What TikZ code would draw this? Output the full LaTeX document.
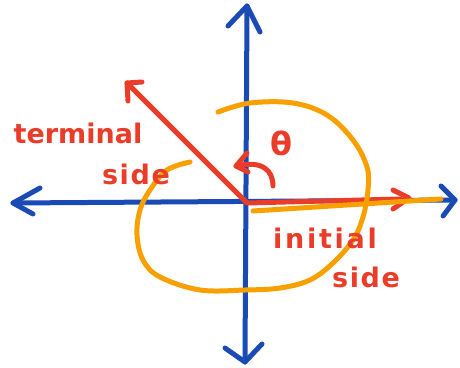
\documentclass[tikz,border=0pt]{standalone}
\usepackage{fontspec}
\setmainfont{DejaVu Sans}
\definecolor{axisblue}{RGB}{26,74,180}
\definecolor{penred}{RGB}{234,60,40}
\definecolor{penorange}{RGB}{248,160,0}
\begin{document}
\begin{tikzpicture}[x=1pt,y=-1pt,
  axisline/.style={draw=axisblue,line width=5pt,line cap=round,line join=round},
  redline/.style={draw=penred,line width=5pt,line cap=round,line join=round},
  orangeline/.style={draw=penorange,line width=5pt,line cap=round,line join=round},
  handtext/.style={text=penred,font=\bfseries\fontsize{27}{29}\selectfont,inner sep=0pt}]
\useasboundingbox (0,0) rectangle (460,367);
% axes
\coordinate (top) at (247,6);
\coordinate (bottom) at (245,362);
\coordinate (left) at (13,203);
\coordinate (right) at (455,200);
\coordinate (O) at (247,203);
\draw[axisline] (top) -- (bottom);
\draw[axisline] (left) -- (right);
\draw[axisline] (228,26) -- (top) -- (260,32);
\draw[axisline] (225,348) -- (bottom) -- (262,344);
\draw[axisline] (40,188) -- (left) -- (33,214);
\draw[axisline] (441,186) -- (right) -- (443,216);
% terminal side
\coordinate (termtip) at (127,83);
\draw[redline] (termtip) -- (O) -- (400,199);
\draw[redline] (142,82) -- (termtip) -- (128,101);
% initial side arrowhead
\coordinate (inittip) at (409,198);
\draw[redline] (393,190) -- (inittip) -- (393,209);
% small angle arc
\coordinate (arctip) at (236,166);
\draw[redline] (273,186) .. controls (273,170) and (262,160) .. (arctip);
\draw[redline] (247,153) -- (arctip) -- (248,172);
% orange spiral
\draw[orangeline] plot[smooth,tension=0.6] coordinates {(218,112) (250,103) (293,103) (327,115) (353,140) (367,167) (368,190) (363,217) (353,240) (333,263) (310,280) (280,288) (245,290) (200,290) (160,277) (143,260) (137,235) (140,210) (150,190) (167,170) (190,162)};
\draw[orangeline] (253,211) -- (441,199);
% labels
\node[handtext,font=\bfseries\fontsize{32}{34}\selectfont] (theta) at (281,143) {θ};
\node[handtext] (term1) at (78,133) {terminal};
\node[handtext] (term2) at (136,174) {\addfontfeature{LetterSpace=6}side};
\node[handtext] (init1) at (325,238) {\addfontfeature{LetterSpace=10}initial};
\node[handtext] (init2) at (366,277) {\addfontfeature{LetterSpace=6}side};
\end{tikzpicture}
\end{document}
